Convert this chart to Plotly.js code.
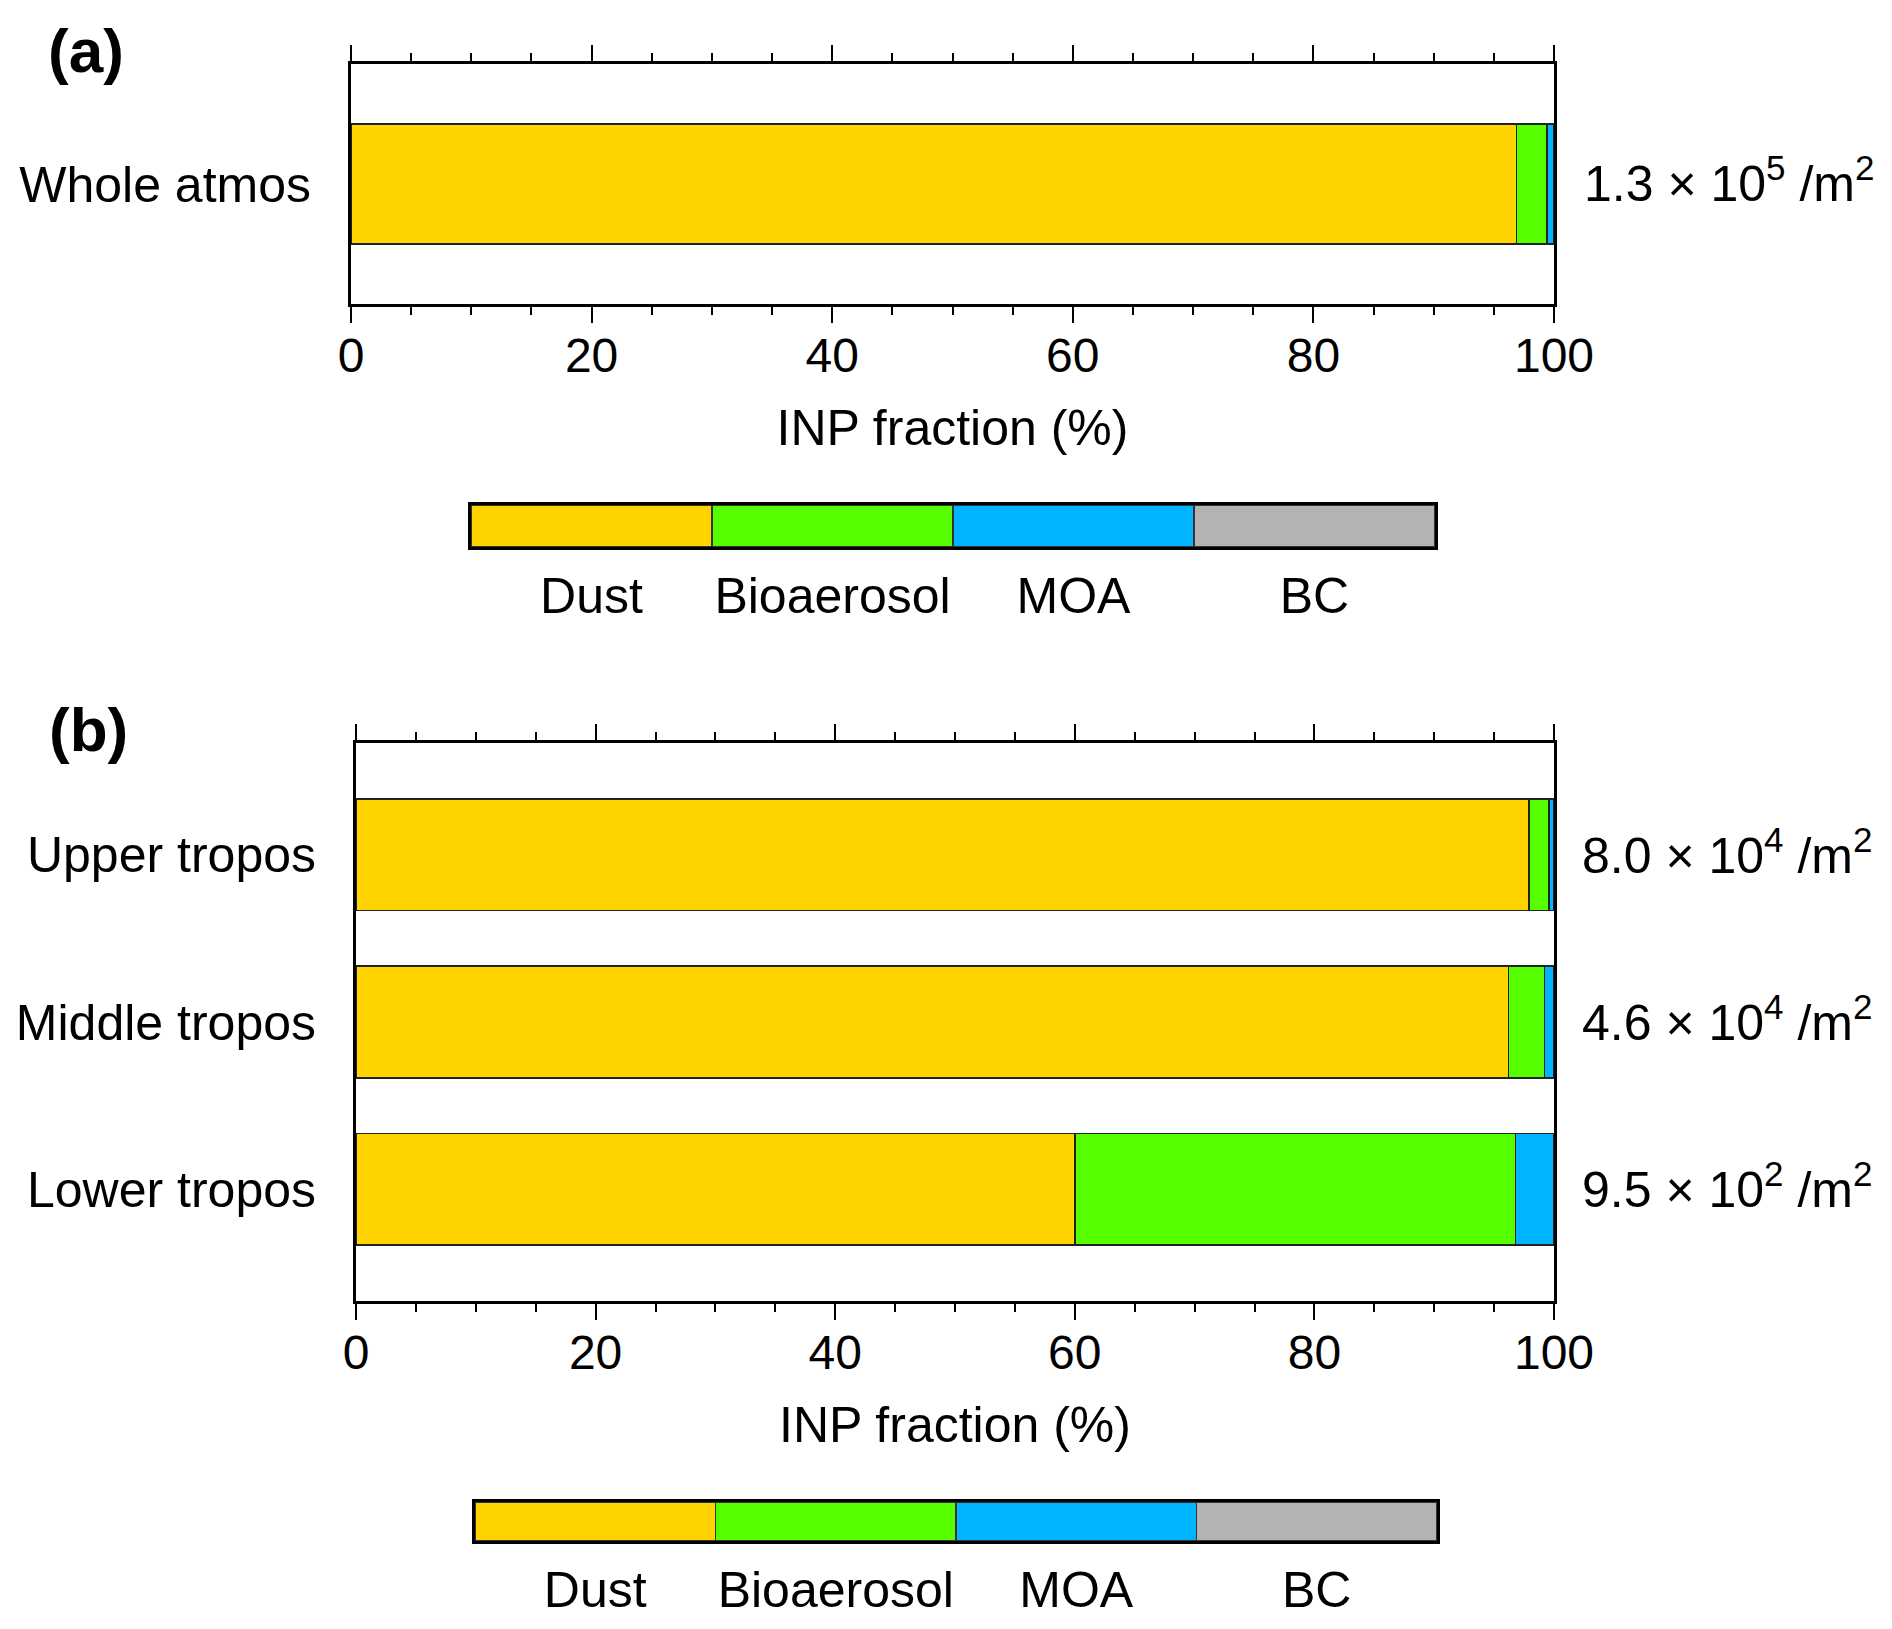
<!DOCTYPE html>
<html>
<head>
<meta charset="utf-8">
<script src="https://cdn.plot.ly/plotly-3.0.1.min.js"></script>
<style>
  html, body { margin: 0; padding: 0; background: #fff; }
  #chart { width: 1892px; height: 1629px; }
</style>
</head>
<body>
<div id="chart"></div>
<script>
// INP fraction by species (%)
const species = ['Dust', 'Bioaerosol', 'MOA', 'BC'];
const speciesColors = ['#FFD300', '#55FF00', '#00B4FF', '#B3B3B3'];

// panel (a)
const categoriesA = ['Whole atmos'];
const dustA = [96.9];
const bioA = [2.5];
const moaA = [0.6];
const bcA = [0.0];
const mantissaA = [1.3];
const exponentA = [5];

// panel (b)
const categoriesB = ['Upper tropos', 'Middle tropos', 'Lower tropos'];
const dustB = [97.9, 96.2, 60.0];
const bioB = [1.7, 3.0, 36.8];
const moaB = [0.4, 0.8, 3.2];
const bcB = [0.0, 0.0, 0.0];
const mantissaB = [8.0, 4.6, 9.5];
const exponentB = [4, 4, 2];

// legend bar: one equal box per species
const legendSize = [1, 1, 1, 1];

const fontFam = '"Liberation Sans", Arial, Helvetica, sans-serif';
const W = 1892, H = 1629;
const barWidth = 0.667;

// pixel helpers -> paper fractions
function px(x) { return x / W; }
function py(y) { return 1 - y / H; }

function stackTraces(cats, parts, xa, ya) {
    return parts.map((vals, i) => ({
        type: 'bar',
        orientation: 'h',
        y: cats,
        x: vals,
        width: barWidth,
        name: species[i],
        xaxis: xa,
        yaxis: ya,
        marker: {color: speciesColors[i], line: {color: '#222', width: 1.5}},
        hoverinfo: 'skip'
    }));
}

function legendTrace(xa, ya) {
    return {
        type: 'bar',
        x: species,
        y: legendSize,
        width: 1,
        xaxis: xa,
        yaxis: ya,
        marker: {color: speciesColors, line: {color: '#333', width: 1.2}},
        hoverinfo: 'skip'
    };
}

const data = [
    ...stackTraces(categoriesA, [dustA, bioA, moaA, bcA], 'x', 'y'),
    ...stackTraces(categoriesB, [dustB, bioB, moaB, bcB], 'x2', 'y2'),
    legendTrace('x3', 'y3'),
    legendTrace('x4', 'y4')
];

function fractionAxis(domain, anchor) {
    return {
        domain: domain,
        anchor: anchor,
        range: [0, 100],
        autorange: false,
        tickmode: 'linear',
        tick0: 0,
        dtick: 20,
        ticks: 'outside',
        ticklen: 16,
        tickwidth: 2,
        tickcolor: '#000',
        minor: {dtick: 5, ticks: 'outside', ticklen: 8, tickwidth: 2, tickcolor: '#000', showgrid: false},
        showline: true,
        linewidth: 3,
        linecolor: '#000',
        mirror: 'ticks',
        showgrid: false,
        zeroline: false,
        tickfont: {size: 48, color: '#000'},
        ticklabelstandoff: -9,
        title: {text: 'INP fraction (%)', font: {size: 50, color: '#000'}, standoff: 30},
        automargin: false,
        fixedrange: true
    };
}

function categoryAxis(domain, anchor, range) {
    return {
        domain: domain,
        anchor: anchor,
        type: 'category',
        range: range,
        autorange: false,
        ticks: '',
        showline: true,
        linewidth: 3,
        linecolor: '#000',
        mirror: true,
        showgrid: false,
        zeroline: false,
        tickfont: {size: 50, color: '#000'},
        ticklabelstandoff: 27,
        automargin: false,
        fixedrange: true
    };
}

function legendXAxis(domain, anchor) {
    return {
        domain: domain,
        anchor: anchor,
        type: 'category',
        ticks: '',
        showline: true,
        linewidth: 3,
        linecolor: '#000',
        mirror: true,
        showgrid: false,
        zeroline: false,
        tickfont: {size: 50, color: '#000'},
        ticklabelstandoff: 3,
        automargin: false,
        fixedrange: true
    };
}

function legendYAxis(domain, anchor) {
    return {
        domain: domain,
        anchor: anchor,
        range: [0, 1],
        autorange: false,
        showticklabels: false,
        ticks: '',
        showline: true,
        linewidth: 3,
        linecolor: '#000',
        mirror: true,
        showgrid: false,
        zeroline: false,
        automargin: false,
        fixedrange: true
    };
}

function totalLabel(m, e) {
    return m.toFixed(1) + ' × 10<sup>' + e + '</sup> /m<sup>2</sup>';
}

const annotations = [];
categoriesA.forEach((c, i) => annotations.push({
    xref: 'x', yref: 'y', x: 100, y: c, xanchor: 'left', yanchor: 'middle',
    xshift: 28, yshift: 4, showarrow: false, text: totalLabel(mantissaA[i], exponentA[i]),
    font: {size: 50, color: '#000'}
}));
categoriesB.forEach((c, i) => annotations.push({
    xref: 'x2', yref: 'y2', x: 100, y: c, xanchor: 'left', yanchor: 'middle',
    xshift: 26, yshift: 3, showarrow: false, text: totalLabel(mantissaB[i], exponentB[i]),
    font: {size: 50, color: '#000'}
}));
annotations.push(
    {xref: 'paper', yref: 'paper', x: px(86), y: py(50), xanchor: 'center', yanchor: 'middle',
     showarrow: false, text: '<b>(a)</b>', font: {size: 62, color: '#000'}},
    {xref: 'paper', yref: 'paper', x: px(88), y: py(729), xanchor: 'center', yanchor: 'middle',
     showarrow: false, text: '<b>(b)</b>', font: {size: 62, color: '#000'}}
);

const layout = {
    width: W,
    height: H,
    margin: {l: 0, r: 0, t: 0, b: 0},
    paper_bgcolor: '#fff',
    plot_bgcolor: '#fff',
    font: {family: fontFam, color: '#000'},
    barmode: 'stack',
    showlegend: false,
    hovermode: false,
    xaxis: fractionAxis([px(351), px(1554)], 'y'),
    yaxis: categoryAxis([py(304), py(64)], 'x', [-0.667, 0.667]),
    xaxis2: fractionAxis([px(356), px(1554)], 'y2'),
    yaxis2: categoryAxis([py(1301), py(743)], 'x2', [2.667, -0.667]),
    xaxis3: legendXAxis([px(471), px(1435)], 'y3'),
    yaxis3: legendYAxis([py(547), py(505)], 'x3'),
    xaxis4: legendXAxis([px(475), px(1437)], 'y4'),
    yaxis4: legendYAxis([py(1541), py(1502)], 'x4'),
    annotations: annotations
};

Plotly.newPlot('chart', data, layout, {staticPlot: true, displayModeBar: false});
</script>
</body>
</html>
